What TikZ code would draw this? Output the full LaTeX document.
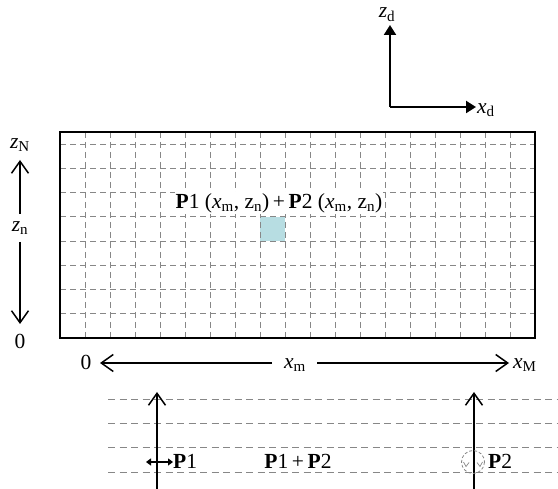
\documentclass[tikz,border=0pt]{standalone}
\usepackage{fontspec}
\setmainfont{Liberation Serif}
\usetikzlibrary{arrows.meta}
\definecolor{cellblue}{RGB}{183,221,226}
\definecolor{gridgray}{RGB}{135,135,135}
\tikzset{
  gridline/.style={draw=gridgray, line width=0.75pt, dash pattern=on 6pt off 4pt},
  laneline/.style={draw=gridgray, line width=0.8pt, dash pattern=on 7pt off 4.5pt},
  barb/.style={line width=1.5pt, -{Straight Barb[length=12pt,width=17pt,line width=1.5pt]}},
  axisd/.style={line width=2.2pt, -{Triangle[length=10pt,width=12pt]}},
  smallarrow/.style={line width=1.3pt, {Triangle[length=5pt,width=7pt]}-{Triangle[length=5pt,width=7pt]}},
  lbl/.style={font=\fontsize{21.5}{24}\selectfont, inner sep=1pt},
}
\newcommand{\xm}{\textit{x}\textsubscript{m}}
\begin{document}
\begin{tikzpicture}[x=1pt,y=-1pt]
\useasboundingbox (0,0) rectangle (558,489);
% shaded cell
\fill[cellblue] (260,216.75) rectangle (285,241);
% grid
\foreach \i in {1,...,18} \draw[gridline] (60+25*\i,132) -- (60+25*\i,338);
\foreach \k in {1,...,8} \draw[gridline] (60,338-24.25*\k) -- (535,338-24.25*\k);
\draw[line width=1.5pt] (60,132) rectangle (535,338);
\node[lbl, fill=white] (cell) at (279,203) {\textbf{P}1 (\xm, z\textsubscript{n})\,+\,\textbf{P}2 (\xm, z\textsubscript{n})};
% top axes
\coordinate (o) at (390,107);
\coordinate (zd) at (390,25);
\coordinate (xd) at (476,107);
\draw[axisd] (o) -- (zd);
\draw[axisd] (o) -- (xd);
\node[lbl, anchor=base] (zdl) at (387,18) {\textit{z}\textsubscript{d}};
\node[lbl, anchor=west] (xdl) at (476,110) {\textit{x}\textsubscript{d}};
% left axis
\node[lbl] (zN) at (20,145) {\textit{z}\textsubscript{N}};
\node[lbl] (zn) at (20,228) {\textit{z}\textsubscript{n}};
\node[lbl] (z0) at (20,341) {0};
\coordinate (zu1) at (20,214); \coordinate (zu2) at (20,160);
\coordinate (zd1) at (20,242); \coordinate (zd2) at (20,324);
\draw[barb] (zu1) -- (zu2);
\draw[barb] (zd1) -- (zd2);
% bottom x axis
\node[lbl] (x0) at (86,362) {0};
\node[lbl] (xml) at (295,365) {\xm};
\node[lbl, anchor=west] (xM) at (512,365) {\textit{x}\textsubscript{M}};
\coordinate (xa1) at (272,363); \coordinate (xa2) at (100,363);
\coordinate (xb1) at (317,363); \coordinate (xb2) at (509,363);
\draw[barb] (xa1) -- (xa2);
\draw[barb] (xb1) -- (xb2);
% lanes
\foreach \y in {399.5,423.5,447.5,472.5} \draw[laneline] (108,\y) -- (558,\y);
\coordinate (v1a) at (157,489); \coordinate (v1b) at (157,392);
\coordinate (v2a) at (474,489); \coordinate (v2b) at (474,392);
\draw[barb] (v1a) -- (v1b);
\draw[barb] (v2a) -- (v2b);
% P1 oscillation
\coordinate (p1a) at (146,462); \coordinate (p1b) at (173,462);
\draw[smallarrow] (p1a) -- (p1b);
\node[lbl, anchor=west] (P1) at (172,461) {\textbf{P}1};
\node[lbl] (P12) at (298,461) {\textbf{P}1\,+\,\textbf{P}2};
% P2 rotation
\coordinate (rc) at (473,462);
\draw[gridgray, line width=0.8pt, dash pattern=on 3pt off 2pt] (rc) circle (11.5);
\draw[gridgray, line width=0.7pt] (463.5,462) -- (466,466.5) -- (469,462.5);
\draw[gridgray, line width=0.7pt] (477,462.5) -- (480,466.5) -- (482.5,462);
\node[lbl, anchor=west] (P2) at (487,461) {\textbf{P}2};
\end{tikzpicture}
\end{document}
